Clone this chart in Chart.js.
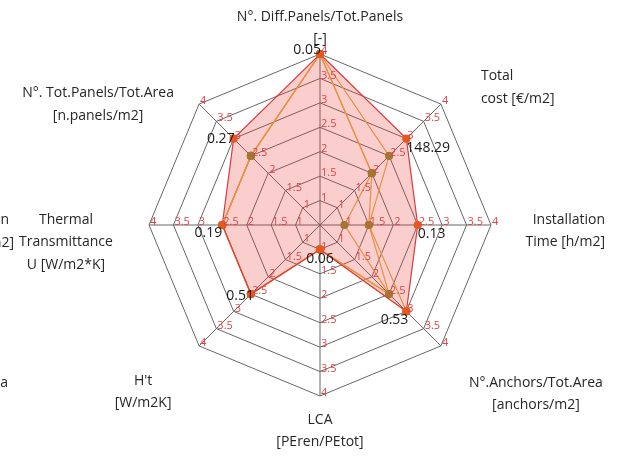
<!DOCTYPE html>
<html>
<head>
<meta charset="utf-8">
<script src="https://cdn.jsdelivr.net/npm/chart.js@4.4.1/dist/chart.umd.min.js"></script>
<style>
  html, body { margin: 0; padding: 0; background: #ffffff; }
  #wrap { width: 618px; height: 457px; position: relative; }
</style>
</head>
<body>
<div id="wrap"><canvas id="radar"></canvas></div>
<script>
// Criteria, clockwise from the top
const axisLabels = [
  ["N°. Diff.Panels/Tot.Panels", "[-]"],
  ["Total", "cost [€/m2]"],
  ["Installation", "Time [h/m2]"],
  ["N°.Anchors/Tot.Area", "[anchors/m2]"],
  ["LCA", "[PEren/PEtot]"],
  ["H't", "[W/m2K]"],
  ["Thermal", "Transmittance", "U [W/m2*K]"],
  ["N°. Tot.Panels/Tot.Area", "[n.panels/m2]"]
];

// Scores of the selected solution and the two alternatives
const selectedScores = [4, 3, 2.5, 3, 1, 2.5, 2.5, 3];
const altScoresA     = [4, 2.5, 1.5, 2.5, 1, 2.5, 2.5, 2.5];
const altScoresB     = [4, 2, 1, 2.5, 1, 2.5, 2.5, 2.5];
const altScoresC     = [4, 2, 1.5, 3, 1, 2.5, 2.5, 2.5];

// Measured values of the selected solution
const selectedValues = ["0.05", "148.29", "0.13", "0.53", "0.06", "0.51", "0.19", "0.27"];

// Score ticks
const scoreTicks = [1, 1.5, 2, 2.5, 3, 3.5, 4];

const FONT = "'Open Sans', 'Noto Sans', sans-serif";

// Score ticks written on every spoke
const spokeTicks = {
  id: 'spokeTicks',
  afterDatasetsDraw(chart) {
    const s = chart.scales.r;
    const ctx = chart.ctx;
    ctx.save();
    ctx.font = "11px " + FONT;
    ctx.fillStyle = "#e0444a";
    ctx.textAlign = "left";
    ctx.textBaseline = "middle";
    for (let i = 0; i < axisLabels.length; i++) {
      scoreTicks.forEach(v => {
        const p = s.getPointPositionForValue(i, v);
        ctx.fillText(String(v), p.x + 1, p.y - 3);
      });
    }
    ctx.restore();
  }
};

// Measured value beside each point of the selected solution
const valueTags = {
  id: 'valueTags',
  afterDatasetsDraw(chart) {
    const s = chart.scales.r;
    const ctx = chart.ctx;
    const place = [
      { dx: 1, dy: -4, a: "right" },
      { dx: 0, dy: 9, a: "left" },
      { dx: 0, dy: 9, a: "left" },
      { dx: 2, dy: 9, a: "right" },
      { dx: 0, dy: 10, a: "center" },
      { dx: 3, dy: 2, a: "right" },
      { dx: 0, dy: 8, a: "right" },
      { dx: 1, dy: 0, a: "right" }
    ];
    ctx.save();
    ctx.font = "14px " + FONT;
    ctx.fillStyle = "#1a1a1a";
    ctx.textBaseline = "middle";
    selectedValues.forEach((t, i) => {
      const p = s.getPointPositionForValue(i, selectedScores[i]);
      ctx.textAlign = place[i].a;
      ctx.fillText(t, p.x + place[i].dx, p.y + place[i].dy);
    });
    ctx.restore();
  }
};

// Criterion names around the web
const criterionNames = {
  id: 'criterionNames',
  afterDraw(chart) {
    const s = chart.scales.r;
    const ctx = chart.ctx;
    const place = [
      { dx: 0, dy: -37, a: "center" },
      { dx: 40, dy: -28, a: "left" },
      { dx: 114, dy: -5, a: "right" },
      { dx: 95, dy: 37, a: "center" },
      { dx: 0, dy: 24, a: "center" },
      { dx: -56, dy: 35, a: "center" },
      { dx: -83, dy: -5, a: "center" },
      { dx: -101, dy: -11, a: "center" }
    ];
    ctx.save();
    ctx.font = "14px " + FONT;
    ctx.fillStyle = "#262626";
    ctx.textBaseline = "middle";
    axisLabels.forEach((lines, i) => {
      const p = s.getPointPosition(i, s.drawingArea);
      ctx.textAlign = place[i].a;
      lines.forEach((ln, k) => {
        ctx.fillText(ln, p.x + place[i].dx, p.y + place[i].dy + k * 22.5);
      });
    });
    // labels of the neighbouring web, cut by the left border
    ctx.textAlign = "right";
    ctx.fillText(axisLabels[2][0], 9, 220);
    ctx.fillText(axisLabels[2][1], 14, 243);
    ctx.fillText(axisLabels[3][0], 8, 383);
    ctx.restore();
  }
};

const altLine = (data) => ({
  data,
  borderColor: "#e5ad45",
  borderWidth: 1.2,
  backgroundColor: "rgba(0,0,0,0)",
  fill: false,
  pointBackgroundColor: "#8c8a2e",
  pointBorderColor: "#8c8a2e",
  pointRadius: 3.5,
  pointHoverRadius: 3.5
});

new Chart(document.getElementById("radar"), {
  type: "radar",
  data: {
    labels: axisLabels,
    datasets: [
      {
        data: selectedScores,
        borderColor: "#e0393c",
        borderWidth: 1.2,
        backgroundColor: "rgba(240,60,60,0.25)",
        fill: true,
        pointBackgroundColor: "#e8581e",
        pointBorderColor: "#e8581e",
        pointRadius: 3.5,
        pointHoverRadius: 3.5
      },
      altLine(altScoresA),
      altLine(altScoresB),
      altLine(altScoresC)
    ]
  },
  options: {
    responsive: true,
    maintainAspectRatio: false,
    animation: false,
    layout: { padding: { left: 149, right: 127, top: 54, bottom: 61 } },
    plugins: { legend: { display: false }, tooltip: { enabled: false } },
    elements: { line: { tension: 0 } },
    scales: {
      r: {
        min: 0.5,
        max: 4,
        ticks: { display: false, stepSize: 0.5 },
        pointLabels: { display: false },
        grid: { color: "#666666", lineWidth: 1 },
        angleLines: { color: "#666666", lineWidth: 1 }
      }
    }
  },
  plugins: [spokeTicks, valueTags, criterionNames]
});
</script>
</body>
</html>
